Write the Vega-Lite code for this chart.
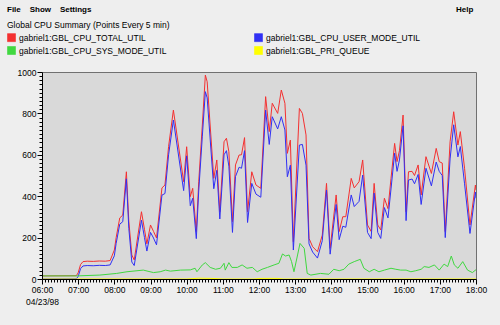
{
  "$schema": "https://vega.github.io/schema/vega-lite/v6.json",
  "width": 434,
  "height": 207,
  "autosize": "none",
  "padding": {"left": 42, "top": 72, "right": 24, "bottom": 46},
  "background": "#eeeeee",
  "config": {"font": "Liberation Sans", "view": {"fill": "#d9d9d9", "stroke": "#707070", "strokeWidth": 1}},
  "title": {
    "text": "File\u00a0\u00a0\u00a0\u00a0Show\u00a0\u00a0\u00a0\u00a0Settings\u00a0\u00a0\u00a0\u00a0\u00a0\u00a0\u00a0\u00a0\u00a0\u00a0\u00a0\u00a0\u00a0\u00a0\u00a0\u00a0\u00a0\u00a0\u00a0\u00a0\u00a0\u00a0\u00a0\u00a0\u00a0\u00a0\u00a0\u00a0\u00a0\u00a0\u00a0\u00a0\u00a0\u00a0\u00a0\u00a0\u00a0\u00a0\u00a0\u00a0\u00a0\u00a0\u00a0\u00a0\u00a0\u00a0\u00a0\u00a0\u00a0\u00a0\u00a0\u00a0\u00a0\u00a0\u00a0\u00a0\u00a0\u00a0\u00a0\u00a0\u00a0\u00a0\u00a0\u00a0\u00a0\u00a0\u00a0\u00a0\u00a0\u00a0\u00a0\u00a0\u00a0\u00a0\u00a0\u00a0\u00a0\u00a0\u00a0\u00a0\u00a0\u00a0\u00a0\u00a0\u00a0\u00a0\u00a0\u00a0\u00a0\u00a0\u00a0\u00a0\u00a0\u00a0\u00a0\u00a0\u00a0\u00a0\u00a0\u00a0\u00a0\u00a0\u00a0\u00a0\u00a0\u00a0\u00a0\u00a0\u00a0\u00a0\u00a0\u00a0\u00a0\u00a0\u00a0\u00a0\u00a0\u00a0\u00a0\u00a0\u00a0\u00a0\u00a0\u00a0\u00a0\u00a0\u00a0\u00a0\u00a0\u00a0\u00a0\u00a0\u00a0\u00a0\u00a0\u00a0\u00a0\u00a0\u00a0\u00a0\u00a0\u00a0\u00a0\u00a0\u00a0\u00a0\u00a0\u00a0\u00a0\u00a0\u00a0\u00a0\u00a0\u00a0\u00a0\u00a0\u00a0\u00a0\u00a0\u00a0\u00a0\u00a0\u00a0\u00a0Help",
    "subtitle": "Global CPU Summary (Points Every 5 min)",
    "anchor": "start",
    "frame": "group",
    "dx": -35,
    "offset": 4,
    "fontSize": 8,
    "fontWeight": "bold",
    "color": "#000000",
    "subtitleFontSize": 8.5,
    "subtitleColor": "#000000",
    "subtitlePadding": 7
  },
  "data": {"values": [
    {"t":"1998-04-23T06:00","s":"gabriel1:GBL_CPU_TOTAL_UTIL","v":15},
    {"t":"1998-04-23T06:57","s":"gabriel1:GBL_CPU_TOTAL_UTIL","v":16},
    {"t":"1998-04-23T07:00","s":"gabriel1:GBL_CPU_TOTAL_UTIL","v":30},
    {"t":"1998-04-23T07:04","s":"gabriel1:GBL_CPU_TOTAL_UTIL","v":70},
    {"t":"1998-04-23T07:08","s":"gabriel1:GBL_CPU_TOTAL_UTIL","v":84},
    {"t":"1998-04-23T07:15","s":"gabriel1:GBL_CPU_TOTAL_UTIL","v":86},
    {"t":"1998-04-23T07:25","s":"gabriel1:GBL_CPU_TOTAL_UTIL","v":85},
    {"t":"1998-04-23T07:35","s":"gabriel1:GBL_CPU_TOTAL_UTIL","v":87},
    {"t":"1998-04-23T07:45","s":"gabriel1:GBL_CPU_TOTAL_UTIL","v":86},
    {"t":"1998-04-23T07:53","s":"gabriel1:GBL_CPU_TOTAL_UTIL","v":89},
    {"t":"1998-04-23T08:00","s":"gabriel1:GBL_CPU_TOTAL_UTIL","v":140},
    {"t":"1998-04-23T08:03","s":"gabriel1:GBL_CPU_TOTAL_UTIL","v":200},
    {"t":"1998-04-23T08:09","s":"gabriel1:GBL_CPU_TOTAL_UTIL","v":295},
    {"t":"1998-04-23T08:14","s":"gabriel1:GBL_CPU_TOTAL_UTIL","v":309},
    {"t":"1998-04-23T08:20","s":"gabriel1:GBL_CPU_TOTAL_UTIL","v":518},
    {"t":"1998-04-23T08:24","s":"gabriel1:GBL_CPU_TOTAL_UTIL","v":280},
    {"t":"1998-04-23T08:29","s":"gabriel1:GBL_CPU_TOTAL_UTIL","v":116},
    {"t":"1998-04-23T08:33","s":"gabriel1:GBL_CPU_TOTAL_UTIL","v":92},
    {"t":"1998-04-23T08:45","s":"gabriel1:GBL_CPU_TOTAL_UTIL","v":325},
    {"t":"1998-04-23T08:50","s":"gabriel1:GBL_CPU_TOTAL_UTIL","v":240},
    {"t":"1998-04-23T08:54","s":"gabriel1:GBL_CPU_TOTAL_UTIL","v":170},
    {"t":"1998-04-23T09:00","s":"gabriel1:GBL_CPU_TOTAL_UTIL","v":261},
    {"t":"1998-04-23T09:05","s":"gabriel1:GBL_CPU_TOTAL_UTIL","v":230},
    {"t":"1998-04-23T09:10","s":"gabriel1:GBL_CPU_TOTAL_UTIL","v":198},
    {"t":"1998-04-23T09:19","s":"gabriel1:GBL_CPU_TOTAL_UTIL","v":440},
    {"t":"1998-04-23T09:24","s":"gabriel1:GBL_CPU_TOTAL_UTIL","v":454},
    {"t":"1998-04-23T09:30","s":"gabriel1:GBL_CPU_TOTAL_UTIL","v":640},
    {"t":"1998-04-23T09:38","s":"gabriel1:GBL_CPU_TOTAL_UTIL","v":816},
    {"t":"1998-04-23T09:55","s":"gabriel1:GBL_CPU_TOTAL_UTIL","v":470},
    {"t":"1998-04-23T10:00","s":"gabriel1:GBL_CPU_TOTAL_UTIL","v":639},
    {"t":"1998-04-23T10:06","s":"gabriel1:GBL_CPU_TOTAL_UTIL","v":398},
    {"t":"1998-04-23T10:10","s":"gabriel1:GBL_CPU_TOTAL_UTIL","v":438},
    {"t":"1998-04-23T10:16","s":"gabriel1:GBL_CPU_TOTAL_UTIL","v":229},
    {"t":"1998-04-23T10:20","s":"gabriel1:GBL_CPU_TOTAL_UTIL","v":470},
    {"t":"1998-04-23T10:26","s":"gabriel1:GBL_CPU_TOTAL_UTIL","v":744},
    {"t":"1998-04-23T10:31","s":"gabriel1:GBL_CPU_TOTAL_UTIL","v":985},
    {"t":"1998-04-23T10:34","s":"gabriel1:GBL_CPU_TOTAL_UTIL","v":953},
    {"t":"1998-04-23T10:45","s":"gabriel1:GBL_CPU_TOTAL_UTIL","v":486},
    {"t":"1998-04-23T10:50","s":"gabriel1:GBL_CPU_TOTAL_UTIL","v":575},
    {"t":"1998-04-23T10:55","s":"gabriel1:GBL_CPU_TOTAL_UTIL","v":325},
    {"t":"1998-04-23T11:02","s":"gabriel1:GBL_CPU_TOTAL_UTIL","v":663},
    {"t":"1998-04-23T11:06","s":"gabriel1:GBL_CPU_TOTAL_UTIL","v":680},
    {"t":"1998-04-23T11:10","s":"gabriel1:GBL_CPU_TOTAL_UTIL","v":615},
    {"t":"1998-04-23T11:16","s":"gabriel1:GBL_CPU_TOTAL_UTIL","v":277},
    {"t":"1998-04-23T11:21","s":"gabriel1:GBL_CPU_TOTAL_UTIL","v":551},
    {"t":"1998-04-23T11:27","s":"gabriel1:GBL_CPU_TOTAL_UTIL","v":599},
    {"t":"1998-04-23T11:31","s":"gabriel1:GBL_CPU_TOTAL_UTIL","v":600},
    {"t":"1998-04-23T11:36","s":"gabriel1:GBL_CPU_TOTAL_UTIL","v":683},
    {"t":"1998-04-23T11:41","s":"gabriel1:GBL_CPU_TOTAL_UTIL","v":325},
    {"t":"1998-04-23T11:48","s":"gabriel1:GBL_CPU_TOTAL_UTIL","v":518},
    {"t":"1998-04-23T11:55","s":"gabriel1:GBL_CPU_TOTAL_UTIL","v":454},
    {"t":"1998-04-23T12:03","s":"gabriel1:GBL_CPU_TOTAL_UTIL","v":438},
    {"t":"1998-04-23T12:11","s":"gabriel1:GBL_CPU_TOTAL_UTIL","v":881},
    {"t":"1998-04-23T12:17","s":"gabriel1:GBL_CPU_TOTAL_UTIL","v":712},
    {"t":"1998-04-23T12:22","s":"gabriel1:GBL_CPU_TOTAL_UTIL","v":849},
    {"t":"1998-04-23T12:31","s":"gabriel1:GBL_CPU_TOTAL_UTIL","v":800},
    {"t":"1998-04-23T12:37","s":"gabriel1:GBL_CPU_TOTAL_UTIL","v":913},
    {"t":"1998-04-23T12:43","s":"gabriel1:GBL_CPU_TOTAL_UTIL","v":849},
    {"t":"1998-04-23T12:47","s":"gabriel1:GBL_CPU_TOTAL_UTIL","v":607},
    {"t":"1998-04-23T12:52","s":"gabriel1:GBL_CPU_TOTAL_UTIL","v":671},
    {"t":"1998-04-23T12:57","s":"gabriel1:GBL_CPU_TOTAL_UTIL","v":180},
    {"t":"1998-04-23T13:07","s":"gabriel1:GBL_CPU_TOTAL_UTIL","v":824},
    {"t":"1998-04-23T13:12","s":"gabriel1:GBL_CPU_TOTAL_UTIL","v":800},
    {"t":"1998-04-23T13:18","s":"gabriel1:GBL_CPU_TOTAL_UTIL","v":696},
    {"t":"1998-04-23T13:23","s":"gabriel1:GBL_CPU_TOTAL_UTIL","v":196},
    {"t":"1998-04-23T13:29","s":"gabriel1:GBL_CPU_TOTAL_UTIL","v":156},
    {"t":"1998-04-23T13:37","s":"gabriel1:GBL_CPU_TOTAL_UTIL","v":132},
    {"t":"1998-04-23T13:45","s":"gabriel1:GBL_CPU_TOTAL_UTIL","v":212},
    {"t":"1998-04-23T13:52","s":"gabriel1:GBL_CPU_TOTAL_UTIL","v":462},
    {"t":"1998-04-23T13:58","s":"gabriel1:GBL_CPU_TOTAL_UTIL","v":148},
    {"t":"1998-04-23T14:08","s":"gabriel1:GBL_CPU_TOTAL_UTIL","v":406},
    {"t":"1998-04-23T14:13","s":"gabriel1:GBL_CPU_TOTAL_UTIL","v":229},
    {"t":"1998-04-23T14:19","s":"gabriel1:GBL_CPU_TOTAL_UTIL","v":301},
    {"t":"1998-04-23T14:24","s":"gabriel1:GBL_CPU_TOTAL_UTIL","v":301},
    {"t":"1998-04-23T14:33","s":"gabriel1:GBL_CPU_TOTAL_UTIL","v":486},
    {"t":"1998-04-23T14:38","s":"gabriel1:GBL_CPU_TOTAL_UTIL","v":440},
    {"t":"1998-04-23T14:46","s":"gabriel1:GBL_CPU_TOTAL_UTIL","v":470},
    {"t":"1998-04-23T14:52","s":"gabriel1:GBL_CPU_TOTAL_UTIL","v":575},
    {"t":"1998-04-23T15:00","s":"gabriel1:GBL_CPU_TOTAL_UTIL","v":261},
    {"t":"1998-04-23T15:06","s":"gabriel1:GBL_CPU_TOTAL_UTIL","v":230},
    {"t":"1998-04-23T15:11","s":"gabriel1:GBL_CPU_TOTAL_UTIL","v":462},
    {"t":"1998-04-23T15:17","s":"gabriel1:GBL_CPU_TOTAL_UTIL","v":261},
    {"t":"1998-04-23T15:22","s":"gabriel1:GBL_CPU_TOTAL_UTIL","v":237},
    {"t":"1998-04-23T15:28","s":"gabriel1:GBL_CPU_TOTAL_UTIL","v":390},
    {"t":"1998-04-23T15:34","s":"gabriel1:GBL_CPU_TOTAL_UTIL","v":340},
    {"t":"1998-04-23T15:39","s":"gabriel1:GBL_CPU_TOTAL_UTIL","v":486},
    {"t":"1998-04-23T15:45","s":"gabriel1:GBL_CPU_TOTAL_UTIL","v":655},
    {"t":"1998-04-23T15:49","s":"gabriel1:GBL_CPU_TOTAL_UTIL","v":567},
    {"t":"1998-04-23T15:53","s":"gabriel1:GBL_CPU_TOTAL_UTIL","v":620},
    {"t":"1998-04-23T15:59","s":"gabriel1:GBL_CPU_TOTAL_UTIL","v":792},
    {"t":"1998-04-23T16:04","s":"gabriel1:GBL_CPU_TOTAL_UTIL","v":325},
    {"t":"1998-04-23T16:08","s":"gabriel1:GBL_CPU_TOTAL_UTIL","v":518},
    {"t":"1998-04-23T16:14","s":"gabriel1:GBL_CPU_TOTAL_UTIL","v":520},
    {"t":"1998-04-23T16:18","s":"gabriel1:GBL_CPU_TOTAL_UTIL","v":500},
    {"t":"1998-04-23T16:24","s":"gabriel1:GBL_CPU_TOTAL_UTIL","v":551},
    {"t":"1998-04-23T16:29","s":"gabriel1:GBL_CPU_TOTAL_UTIL","v":406},
    {"t":"1998-04-23T16:37","s":"gabriel1:GBL_CPU_TOTAL_UTIL","v":591},
    {"t":"1998-04-23T16:46","s":"gabriel1:GBL_CPU_TOTAL_UTIL","v":510},
    {"t":"1998-04-23T16:54","s":"gabriel1:GBL_CPU_TOTAL_UTIL","v":631},
    {"t":"1998-04-23T16:59","s":"gabriel1:GBL_CPU_TOTAL_UTIL","v":567},
    {"t":"1998-04-23T17:04","s":"gabriel1:GBL_CPU_TOTAL_UTIL","v":560},
    {"t":"1998-04-23T17:09","s":"gabriel1:GBL_CPU_TOTAL_UTIL","v":229},
    {"t":"1998-04-23T17:17","s":"gabriel1:GBL_CPU_TOTAL_UTIL","v":663},
    {"t":"1998-04-23T17:23","s":"gabriel1:GBL_CPU_TOTAL_UTIL","v":808},
    {"t":"1998-04-23T17:30","s":"gabriel1:GBL_CPU_TOTAL_UTIL","v":647},
    {"t":"1998-04-23T17:34","s":"gabriel1:GBL_CPU_TOTAL_UTIL","v":712},
    {"t":"1998-04-23T17:41","s":"gabriel1:GBL_CPU_TOTAL_UTIL","v":535},
    {"t":"1998-04-23T17:50","s":"gabriel1:GBL_CPU_TOTAL_UTIL","v":261},
    {"t":"1998-04-23T17:59","s":"gabriel1:GBL_CPU_TOTAL_UTIL","v":454},
    {"t":"1998-04-23T18:00","s":"gabriel1:GBL_CPU_TOTAL_UTIL","v":430},

    {"t":"1998-04-23T06:00","s":"gabriel1:GBL_CPU_USER_MODE_UTIL","v":0},
    {"t":"1998-04-23T06:57","s":"gabriel1:GBL_CPU_USER_MODE_UTIL","v":1},
    {"t":"1998-04-23T07:00","s":"gabriel1:GBL_CPU_USER_MODE_UTIL","v":12},
    {"t":"1998-04-23T07:04","s":"gabriel1:GBL_CPU_USER_MODE_UTIL","v":50},
    {"t":"1998-04-23T07:08","s":"gabriel1:GBL_CPU_USER_MODE_UTIL","v":63},
    {"t":"1998-04-23T07:15","s":"gabriel1:GBL_CPU_USER_MODE_UTIL","v":65},
    {"t":"1998-04-23T07:25","s":"gabriel1:GBL_CPU_USER_MODE_UTIL","v":64},
    {"t":"1998-04-23T07:35","s":"gabriel1:GBL_CPU_USER_MODE_UTIL","v":66},
    {"t":"1998-04-23T07:45","s":"gabriel1:GBL_CPU_USER_MODE_UTIL","v":65},
    {"t":"1998-04-23T07:53","s":"gabriel1:GBL_CPU_USER_MODE_UTIL","v":68},
    {"t":"1998-04-23T08:00","s":"gabriel1:GBL_CPU_USER_MODE_UTIL","v":112},
    {"t":"1998-04-23T08:03","s":"gabriel1:GBL_CPU_USER_MODE_UTIL","v":172},
    {"t":"1998-04-23T08:09","s":"gabriel1:GBL_CPU_USER_MODE_UTIL","v":265},
    {"t":"1998-04-23T08:14","s":"gabriel1:GBL_CPU_USER_MODE_UTIL","v":277},
    {"t":"1998-04-23T08:20","s":"gabriel1:GBL_CPU_USER_MODE_UTIL","v":484},
    {"t":"1998-04-23T08:24","s":"gabriel1:GBL_CPU_USER_MODE_UTIL","v":245},
    {"t":"1998-04-23T08:29","s":"gabriel1:GBL_CPU_USER_MODE_UTIL","v":82},
    {"t":"1998-04-23T08:33","s":"gabriel1:GBL_CPU_USER_MODE_UTIL","v":65},
    {"t":"1998-04-23T08:45","s":"gabriel1:GBL_CPU_USER_MODE_UTIL","v":284},
    {"t":"1998-04-23T08:50","s":"gabriel1:GBL_CPU_USER_MODE_UTIL","v":200},
    {"t":"1998-04-23T08:54","s":"gabriel1:GBL_CPU_USER_MODE_UTIL","v":135},
    {"t":"1998-04-23T09:00","s":"gabriel1:GBL_CPU_USER_MODE_UTIL","v":225},
    {"t":"1998-04-23T09:05","s":"gabriel1:GBL_CPU_USER_MODE_UTIL","v":198},
    {"t":"1998-04-23T09:10","s":"gabriel1:GBL_CPU_USER_MODE_UTIL","v":165},
    {"t":"1998-04-23T09:19","s":"gabriel1:GBL_CPU_USER_MODE_UTIL","v":405},
    {"t":"1998-04-23T09:24","s":"gabriel1:GBL_CPU_USER_MODE_UTIL","v":413},
    {"t":"1998-04-23T09:30","s":"gabriel1:GBL_CPU_USER_MODE_UTIL","v":600},
    {"t":"1998-04-23T09:38","s":"gabriel1:GBL_CPU_USER_MODE_UTIL","v":768},
    {"t":"1998-04-23T09:55","s":"gabriel1:GBL_CPU_USER_MODE_UTIL","v":427},
    {"t":"1998-04-23T10:00","s":"gabriel1:GBL_CPU_USER_MODE_UTIL","v":595},
    {"t":"1998-04-23T10:06","s":"gabriel1:GBL_CPU_USER_MODE_UTIL","v":354},
    {"t":"1998-04-23T10:10","s":"gabriel1:GBL_CPU_USER_MODE_UTIL","v":390},
    {"t":"1998-04-23T10:16","s":"gabriel1:GBL_CPU_USER_MODE_UTIL","v":195},
    {"t":"1998-04-23T10:20","s":"gabriel1:GBL_CPU_USER_MODE_UTIL","v":425},
    {"t":"1998-04-23T10:26","s":"gabriel1:GBL_CPU_USER_MODE_UTIL","v":690},
    {"t":"1998-04-23T10:31","s":"gabriel1:GBL_CPU_USER_MODE_UTIL","v":905},
    {"t":"1998-04-23T10:34","s":"gabriel1:GBL_CPU_USER_MODE_UTIL","v":875},
    {"t":"1998-04-23T10:45","s":"gabriel1:GBL_CPU_USER_MODE_UTIL","v":436},
    {"t":"1998-04-23T10:50","s":"gabriel1:GBL_CPU_USER_MODE_UTIL","v":525},
    {"t":"1998-04-23T10:55","s":"gabriel1:GBL_CPU_USER_MODE_UTIL","v":290},
    {"t":"1998-04-23T11:02","s":"gabriel1:GBL_CPU_USER_MODE_UTIL","v":600},
    {"t":"1998-04-23T11:06","s":"gabriel1:GBL_CPU_USER_MODE_UTIL","v":620},
    {"t":"1998-04-23T11:10","s":"gabriel1:GBL_CPU_USER_MODE_UTIL","v":545},
    {"t":"1998-04-23T11:16","s":"gabriel1:GBL_CPU_USER_MODE_UTIL","v":225},
    {"t":"1998-04-23T11:21","s":"gabriel1:GBL_CPU_USER_MODE_UTIL","v":495},
    {"t":"1998-04-23T11:27","s":"gabriel1:GBL_CPU_USER_MODE_UTIL","v":540},
    {"t":"1998-04-23T11:31","s":"gabriel1:GBL_CPU_USER_MODE_UTIL","v":535},
    {"t":"1998-04-23T11:36","s":"gabriel1:GBL_CPU_USER_MODE_UTIL","v":620},
    {"t":"1998-04-23T11:41","s":"gabriel1:GBL_CPU_USER_MODE_UTIL","v":273},
    {"t":"1998-04-23T11:48","s":"gabriel1:GBL_CPU_USER_MODE_UTIL","v":462},
    {"t":"1998-04-23T11:55","s":"gabriel1:GBL_CPU_USER_MODE_UTIL","v":410},
    {"t":"1998-04-23T12:03","s":"gabriel1:GBL_CPU_USER_MODE_UTIL","v":395},
    {"t":"1998-04-23T12:11","s":"gabriel1:GBL_CPU_USER_MODE_UTIL","v":816},
    {"t":"1998-04-23T12:17","s":"gabriel1:GBL_CPU_USER_MODE_UTIL","v":650},
    {"t":"1998-04-23T12:22","s":"gabriel1:GBL_CPU_USER_MODE_UTIL","v":784},
    {"t":"1998-04-23T12:31","s":"gabriel1:GBL_CPU_USER_MODE_UTIL","v":725},
    {"t":"1998-04-23T12:37","s":"gabriel1:GBL_CPU_USER_MODE_UTIL","v":784},
    {"t":"1998-04-23T12:43","s":"gabriel1:GBL_CPU_USER_MODE_UTIL","v":720},
    {"t":"1998-04-23T12:47","s":"gabriel1:GBL_CPU_USER_MODE_UTIL","v":494},
    {"t":"1998-04-23T12:52","s":"gabriel1:GBL_CPU_USER_MODE_UTIL","v":550},
    {"t":"1998-04-23T12:57","s":"gabriel1:GBL_CPU_USER_MODE_UTIL","v":140},
    {"t":"1998-04-23T13:07","s":"gabriel1:GBL_CPU_USER_MODE_UTIL","v":647},
    {"t":"1998-04-23T13:12","s":"gabriel1:GBL_CPU_USER_MODE_UTIL","v":650},
    {"t":"1998-04-23T13:18","s":"gabriel1:GBL_CPU_USER_MODE_UTIL","v":550},
    {"t":"1998-04-23T13:23","s":"gabriel1:GBL_CPU_USER_MODE_UTIL","v":170},
    {"t":"1998-04-23T13:29","s":"gabriel1:GBL_CPU_USER_MODE_UTIL","v":130},
    {"t":"1998-04-23T13:37","s":"gabriel1:GBL_CPU_USER_MODE_UTIL","v":101},
    {"t":"1998-04-23T13:45","s":"gabriel1:GBL_CPU_USER_MODE_UTIL","v":185},
    {"t":"1998-04-23T13:52","s":"gabriel1:GBL_CPU_USER_MODE_UTIL","v":430},
    {"t":"1998-04-23T13:58","s":"gabriel1:GBL_CPU_USER_MODE_UTIL","v":120},
    {"t":"1998-04-23T14:08","s":"gabriel1:GBL_CPU_USER_MODE_UTIL","v":360},
    {"t":"1998-04-23T14:13","s":"gabriel1:GBL_CPU_USER_MODE_UTIL","v":190},
    {"t":"1998-04-23T14:19","s":"gabriel1:GBL_CPU_USER_MODE_UTIL","v":255},
    {"t":"1998-04-23T14:24","s":"gabriel1:GBL_CPU_USER_MODE_UTIL","v":250},
    {"t":"1998-04-23T14:33","s":"gabriel1:GBL_CPU_USER_MODE_UTIL","v":406},
    {"t":"1998-04-23T14:38","s":"gabriel1:GBL_CPU_USER_MODE_UTIL","v":350},
    {"t":"1998-04-23T14:46","s":"gabriel1:GBL_CPU_USER_MODE_UTIL","v":375},
    {"t":"1998-04-23T14:52","s":"gabriel1:GBL_CPU_USER_MODE_UTIL","v":502},
    {"t":"1998-04-23T15:00","s":"gabriel1:GBL_CPU_USER_MODE_UTIL","v":225},
    {"t":"1998-04-23T15:06","s":"gabriel1:GBL_CPU_USER_MODE_UTIL","v":195},
    {"t":"1998-04-23T15:11","s":"gabriel1:GBL_CPU_USER_MODE_UTIL","v":415},
    {"t":"1998-04-23T15:17","s":"gabriel1:GBL_CPU_USER_MODE_UTIL","v":225},
    {"t":"1998-04-23T15:22","s":"gabriel1:GBL_CPU_USER_MODE_UTIL","v":196},
    {"t":"1998-04-23T15:28","s":"gabriel1:GBL_CPU_USER_MODE_UTIL","v":345},
    {"t":"1998-04-23T15:34","s":"gabriel1:GBL_CPU_USER_MODE_UTIL","v":295},
    {"t":"1998-04-23T15:39","s":"gabriel1:GBL_CPU_USER_MODE_UTIL","v":435},
    {"t":"1998-04-23T15:45","s":"gabriel1:GBL_CPU_USER_MODE_UTIL","v":608},
    {"t":"1998-04-23T15:49","s":"gabriel1:GBL_CPU_USER_MODE_UTIL","v":520},
    {"t":"1998-04-23T15:53","s":"gabriel1:GBL_CPU_USER_MODE_UTIL","v":575},
    {"t":"1998-04-23T15:59","s":"gabriel1:GBL_CPU_USER_MODE_UTIL","v":740},
    {"t":"1998-04-23T16:04","s":"gabriel1:GBL_CPU_USER_MODE_UTIL","v":282},
    {"t":"1998-04-23T16:08","s":"gabriel1:GBL_CPU_USER_MODE_UTIL","v":478},
    {"t":"1998-04-23T16:14","s":"gabriel1:GBL_CPU_USER_MODE_UTIL","v":483},
    {"t":"1998-04-23T16:18","s":"gabriel1:GBL_CPU_USER_MODE_UTIL","v":460},
    {"t":"1998-04-23T16:24","s":"gabriel1:GBL_CPU_USER_MODE_UTIL","v":505},
    {"t":"1998-04-23T16:29","s":"gabriel1:GBL_CPU_USER_MODE_UTIL","v":360},
    {"t":"1998-04-23T16:37","s":"gabriel1:GBL_CPU_USER_MODE_UTIL","v":535},
    {"t":"1998-04-23T16:46","s":"gabriel1:GBL_CPU_USER_MODE_UTIL","v":450},
    {"t":"1998-04-23T16:54","s":"gabriel1:GBL_CPU_USER_MODE_UTIL","v":565},
    {"t":"1998-04-23T16:59","s":"gabriel1:GBL_CPU_USER_MODE_UTIL","v":520},
    {"t":"1998-04-23T17:04","s":"gabriel1:GBL_CPU_USER_MODE_UTIL","v":500},
    {"t":"1998-04-23T17:09","s":"gabriel1:GBL_CPU_USER_MODE_UTIL","v":200},
    {"t":"1998-04-23T17:17","s":"gabriel1:GBL_CPU_USER_MODE_UTIL","v":580},
    {"t":"1998-04-23T17:23","s":"gabriel1:GBL_CPU_USER_MODE_UTIL","v":745},
    {"t":"1998-04-23T17:30","s":"gabriel1:GBL_CPU_USER_MODE_UTIL","v":590},
    {"t":"1998-04-23T17:34","s":"gabriel1:GBL_CPU_USER_MODE_UTIL","v":640},
    {"t":"1998-04-23T17:41","s":"gabriel1:GBL_CPU_USER_MODE_UTIL","v":460},
    {"t":"1998-04-23T17:50","s":"gabriel1:GBL_CPU_USER_MODE_UTIL","v":220},
    {"t":"1998-04-23T17:59","s":"gabriel1:GBL_CPU_USER_MODE_UTIL","v":420},
    {"t":"1998-04-23T18:00","s":"gabriel1:GBL_CPU_USER_MODE_UTIL","v":390},

    {"t":"1998-04-23T06:00","s":"gabriel1:GBL_CPU_SYS_MODE_UTIL","v":15},
    {"t":"1998-04-23T06:58","s":"gabriel1:GBL_CPU_SYS_MODE_UTIL","v":15},
    {"t":"1998-04-23T07:36","s":"gabriel1:GBL_CPU_SYS_MODE_UTIL","v":19},
    {"t":"1998-04-23T08:04","s":"gabriel1:GBL_CPU_SYS_MODE_UTIL","v":27},
    {"t":"1998-04-23T08:21","s":"gabriel1:GBL_CPU_SYS_MODE_UTIL","v":35},
    {"t":"1998-04-23T08:48","s":"gabriel1:GBL_CPU_SYS_MODE_UTIL","v":43},
    {"t":"1998-04-23T09:05","s":"gabriel1:GBL_CPU_SYS_MODE_UTIL","v":31},
    {"t":"1998-04-23T09:16","s":"gabriel1:GBL_CPU_SYS_MODE_UTIL","v":35},
    {"t":"1998-04-23T09:25","s":"gabriel1:GBL_CPU_SYS_MODE_UTIL","v":43},
    {"t":"1998-04-23T09:33","s":"gabriel1:GBL_CPU_SYS_MODE_UTIL","v":38},
    {"t":"1998-04-23T09:50","s":"gabriel1:GBL_CPU_SYS_MODE_UTIL","v":43},
    {"t":"1998-04-23T10:06","s":"gabriel1:GBL_CPU_SYS_MODE_UTIL","v":44},
    {"t":"1998-04-23T10:14","s":"gabriel1:GBL_CPU_SYS_MODE_UTIL","v":52},
    {"t":"1998-04-23T10:17","s":"gabriel1:GBL_CPU_SYS_MODE_UTIL","v":35},
    {"t":"1998-04-23T10:26","s":"gabriel1:GBL_CPU_SYS_MODE_UTIL","v":68},
    {"t":"1998-04-23T10:31","s":"gabriel1:GBL_CPU_SYS_MODE_UTIL","v":79},
    {"t":"1998-04-23T10:39","s":"gabriel1:GBL_CPU_SYS_MODE_UTIL","v":56},
    {"t":"1998-04-23T10:48","s":"gabriel1:GBL_CPU_SYS_MODE_UTIL","v":47},
    {"t":"1998-04-23T10:56","s":"gabriel1:GBL_CPU_SYS_MODE_UTIL","v":52},
    {"t":"1998-04-23T11:02","s":"gabriel1:GBL_CPU_SYS_MODE_UTIL","v":76},
    {"t":"1998-04-23T11:04","s":"gabriel1:GBL_CPU_SYS_MODE_UTIL","v":43},
    {"t":"1998-04-23T11:10","s":"gabriel1:GBL_CPU_SYS_MODE_UTIL","v":79},
    {"t":"1998-04-23T11:15","s":"gabriel1:GBL_CPU_SYS_MODE_UTIL","v":56},
    {"t":"1998-04-23T11:24","s":"gabriel1:GBL_CPU_SYS_MODE_UTIL","v":56},
    {"t":"1998-04-23T11:32","s":"gabriel1:GBL_CPU_SYS_MODE_UTIL","v":68},
    {"t":"1998-04-23T11:40","s":"gabriel1:GBL_CPU_SYS_MODE_UTIL","v":52},
    {"t":"1998-04-23T11:49","s":"gabriel1:GBL_CPU_SYS_MODE_UTIL","v":56},
    {"t":"1998-04-23T11:57","s":"gabriel1:GBL_CPU_SYS_MODE_UTIL","v":35},
    {"t":"1998-04-23T12:05","s":"gabriel1:GBL_CPU_SYS_MODE_UTIL","v":47},
    {"t":"1998-04-23T12:14","s":"gabriel1:GBL_CPU_SYS_MODE_UTIL","v":56},
    {"t":"1998-04-23T12:25","s":"gabriel1:GBL_CPU_SYS_MODE_UTIL","v":68},
    {"t":"1998-04-23T12:33","s":"gabriel1:GBL_CPU_SYS_MODE_UTIL","v":76},
    {"t":"1998-04-23T12:39","s":"gabriel1:GBL_CPU_SYS_MODE_UTIL","v":121},
    {"t":"1998-04-23T12:44","s":"gabriel1:GBL_CPU_SYS_MODE_UTIL","v":111},
    {"t":"1998-04-23T12:50","s":"gabriel1:GBL_CPU_SYS_MODE_UTIL","v":116},
    {"t":"1998-04-23T12:54","s":"gabriel1:GBL_CPU_SYS_MODE_UTIL","v":84},
    {"t":"1998-04-23T12:58","s":"gabriel1:GBL_CPU_SYS_MODE_UTIL","v":35},
    {"t":"1998-04-23T13:04","s":"gabriel1:GBL_CPU_SYS_MODE_UTIL","v":116},
    {"t":"1998-04-23T13:08","s":"gabriel1:GBL_CPU_SYS_MODE_UTIL","v":172},
    {"t":"1998-04-23T13:15","s":"gabriel1:GBL_CPU_SYS_MODE_UTIL","v":148},
    {"t":"1998-04-23T13:20","s":"gabriel1:GBL_CPU_SYS_MODE_UTIL","v":27},
    {"t":"1998-04-23T13:26","s":"gabriel1:GBL_CPU_SYS_MODE_UTIL","v":19},
    {"t":"1998-04-23T13:42","s":"gabriel1:GBL_CPU_SYS_MODE_UTIL","v":27},
    {"t":"1998-04-23T13:56","s":"gabriel1:GBL_CPU_SYS_MODE_UTIL","v":23},
    {"t":"1998-04-23T14:04","s":"gabriel1:GBL_CPU_SYS_MODE_UTIL","v":47},
    {"t":"1998-04-23T14:13","s":"gabriel1:GBL_CPU_SYS_MODE_UTIL","v":40},
    {"t":"1998-04-23T14:21","s":"gabriel1:GBL_CPU_SYS_MODE_UTIL","v":47},
    {"t":"1998-04-23T14:29","s":"gabriel1:GBL_CPU_SYS_MODE_UTIL","v":72},
    {"t":"1998-04-23T14:38","s":"gabriel1:GBL_CPU_SYS_MODE_UTIL","v":84},
    {"t":"1998-04-23T14:48","s":"gabriel1:GBL_CPU_SYS_MODE_UTIL","v":95},
    {"t":"1998-04-23T14:54","s":"gabriel1:GBL_CPU_SYS_MODE_UTIL","v":52},
    {"t":"1998-04-23T15:03","s":"gabriel1:GBL_CPU_SYS_MODE_UTIL","v":35},
    {"t":"1998-04-23T15:11","s":"gabriel1:GBL_CPU_SYS_MODE_UTIL","v":47},
    {"t":"1998-04-23T15:19","s":"gabriel1:GBL_CPU_SYS_MODE_UTIL","v":35},
    {"t":"1998-04-23T15:28","s":"gabriel1:GBL_CPU_SYS_MODE_UTIL","v":43},
    {"t":"1998-04-23T15:39","s":"gabriel1:GBL_CPU_SYS_MODE_UTIL","v":52},
    {"t":"1998-04-23T15:47","s":"gabriel1:GBL_CPU_SYS_MODE_UTIL","v":47},
    {"t":"1998-04-23T15:55","s":"gabriel1:GBL_CPU_SYS_MODE_UTIL","v":43},
    {"t":"1998-04-23T16:04","s":"gabriel1:GBL_CPU_SYS_MODE_UTIL","v":43},
    {"t":"1998-04-23T16:12","s":"gabriel1:GBL_CPU_SYS_MODE_UTIL","v":35},
    {"t":"1998-04-23T16:20","s":"gabriel1:GBL_CPU_SYS_MODE_UTIL","v":40},
    {"t":"1998-04-23T16:29","s":"gabriel1:GBL_CPU_SYS_MODE_UTIL","v":47},
    {"t":"1998-04-23T16:34","s":"gabriel1:GBL_CPU_SYS_MODE_UTIL","v":60},
    {"t":"1998-04-23T16:42","s":"gabriel1:GBL_CPU_SYS_MODE_UTIL","v":56},
    {"t":"1998-04-23T16:51","s":"gabriel1:GBL_CPU_SYS_MODE_UTIL","v":68},
    {"t":"1998-04-23T16:59","s":"gabriel1:GBL_CPU_SYS_MODE_UTIL","v":43},
    {"t":"1998-04-23T17:07","s":"gabriel1:GBL_CPU_SYS_MODE_UTIL","v":72},
    {"t":"1998-04-23T17:13","s":"gabriel1:GBL_CPU_SYS_MODE_UTIL","v":60},
    {"t":"1998-04-23T17:19","s":"gabriel1:GBL_CPU_SYS_MODE_UTIL","v":111},
    {"t":"1998-04-23T17:24","s":"gabriel1:GBL_CPU_SYS_MODE_UTIL","v":68},
    {"t":"1998-04-23T17:30","s":"gabriel1:GBL_CPU_SYS_MODE_UTIL","v":52},
    {"t":"1998-04-23T17:38","s":"gabriel1:GBL_CPU_SYS_MODE_UTIL","v":84},
    {"t":"1998-04-23T17:46","s":"gabriel1:GBL_CPU_SYS_MODE_UTIL","v":43},
    {"t":"1998-04-23T17:54","s":"gabriel1:GBL_CPU_SYS_MODE_UTIL","v":31},
    {"t":"1998-04-23T18:00","s":"gabriel1:GBL_CPU_SYS_MODE_UTIL","v":45},

    {"t":"1998-04-23T06:00","s":"gabriel1:GBL_PRI_QUEUE","v":0},
    {"t":"1998-04-23T10:00","s":"gabriel1:GBL_PRI_QUEUE","v":0},
    {"t":"1998-04-23T10:20","s":"gabriel1:GBL_PRI_QUEUE","v":4},
    {"t":"1998-04-23T10:40","s":"gabriel1:GBL_PRI_QUEUE","v":3},
    {"t":"1998-04-23T11:00","s":"gabriel1:GBL_PRI_QUEUE","v":0},
    {"t":"1998-04-23T11:50","s":"gabriel1:GBL_PRI_QUEUE","v":0},
    {"t":"1998-04-23T12:05","s":"gabriel1:GBL_PRI_QUEUE","v":3},
    {"t":"1998-04-23T12:30","s":"gabriel1:GBL_PRI_QUEUE","v":3},
    {"t":"1998-04-23T12:40","s":"gabriel1:GBL_PRI_QUEUE","v":0},
    {"t":"1998-04-23T18:00","s":"gabriel1:GBL_PRI_QUEUE","v":0}
  ]},
  "mark": {"type": "line", "strokeWidth": 1, "clip": true},
  "encoding": {
    "x": {
      "field": "t", "type": "temporal",
      "scale": {"nice": false},
      "axis": {
        "title": "04/23/98",
        "titleAnchor": "start",
        "titleAlign": "center",
        "titleFontSize": 8.5,
        "titleFontWeight": "normal",
        "titleColor": "#000000",
        "titlePadding": 4,
        "tickCount": 144,
        "labelExpr": "timeFormat(datum.value, '%M') == '00' ? timeFormat(datum.value, '%H:%M') : ''",
        "labelOverlap": false,
        "labelFlush": false,
        "labelFontSize": 8.5,
        "labelColor": "#000000",
        "labelPadding": 1,
        "tickSize": {"condition": {"test": "timeFormat(datum.value, '%M') == '00'", "value": 5}, "value": 3},
        "tickColor": "#000000",
        "domainColor": "#000000",
        "grid": false,
        "zindex": 1
      }
    },
    "y": {
      "field": "v", "type": "quantitative", "title": null,
      "scale": {"domain": [0, 1000], "nice": false},
      "axis": {
        "values": [0,20,40,60,80,100,120,140,160,180,200,220,240,260,280,300,320,340,360,380,400,420,440,460,480,500,520,540,560,580,600,620,640,660,680,700,720,740,760,780,800,820,840,860,880,900,920,940,960,980,1000],
        "format": "d",
        "labelExpr": "datum.value % 200 == 0 ? datum.label : ''",
        "labelOverlap": false,
        "labelFontSize": 8.5,
        "labelColor": "#000000",
        "labelPadding": 1,
        "tickSize": {"condition": {"test": "datum.value % 200 == 0", "value": 5}, "value": 3},
        "tickColor": "#000000",
        "domainColor": "#000000",
        "grid": false,
        "zindex": 1
      }
    },
    "color": {
      "field": "s", "type": "nominal", "title": null,
      "scale": {
        "domain": ["gabriel1:GBL_CPU_TOTAL_UTIL", "gabriel1:GBL_CPU_USER_MODE_UTIL", "gabriel1:GBL_CPU_SYS_MODE_UTIL", "gabriel1:GBL_PRI_QUEUE"],
        "range": ["#f43030", "#3030f4", "#40d840", "#ffff00"]
      },
      "legend": {
        "orient": "none",
        "legendX": -35,
        "legendY": -39,
        "columns": 2,
        "direction": "horizontal",
        "columnPadding": 86,
        "rowPadding": 2,
        "symbolType": "square",
        "symbolSize": 64,
        "labelFontSize": 8.5,
        "labelColor": "#000000",
        "labelOffset": 3,
        "labelLimit": 300,
        "encode": {"symbols": {"update": {"fill": {"scale": "color", "field": "value"}, "stroke": {"value": "#555555"}, "strokeWidth": {"value": 0.6}}}}
      }
    }
  }
}
